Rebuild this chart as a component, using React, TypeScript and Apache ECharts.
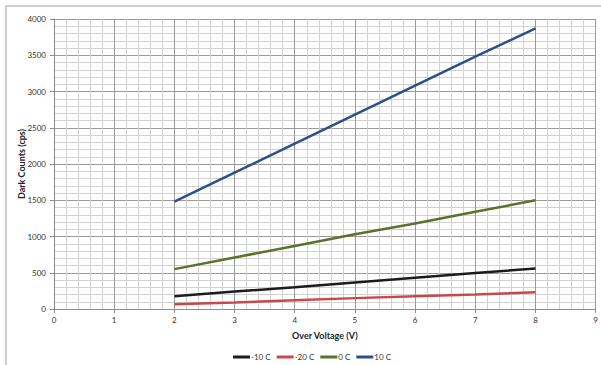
import React, { useEffect, useRef } from "react";
import * as echarts from "echarts";

const voltages = [2, 3, 4, 5, 6, 7, 8];
const seriesNames = ["-10 C", "-20 C", "0 C", "10 C"];
const minus10 = [175, 240, 300, 365, 430, 495, 560];
const minus20 = [65, 90, 120, 150, 175, 200, 230];
const zero = [550, 710, 870, 1030, 1180, 1340, 1500];
const ten = [1480, 1880, 2280, 2680, 3080, 3480, 3870];
const colors = ["#1c1c1c", "#c9494b", "#5b712c", "#2b5188"];

export default function App() {
  const ref = useRef<HTMLDivElement>(null);
  useEffect(() => {
    if (!ref.current) return;
    const chart = echarts.init(ref.current, undefined, { renderer: "svg" });
    const values = [minus10, minus20, zero, ten];
    const font = "Lato, 'Open Sans', sans-serif";
    chart.setOption({
      animation: false,
      textStyle: { fontFamily: font },
      graphic: [
        {
          type: "rect",
          shape: { x: 6, y: 6, width: 620, height: 380 },
          style: { fill: "none", stroke: "#cfcfcf", lineWidth: 2 },
          silent: true,
        },
      ],
      grid: { left: 54, right: 2, top: 19, bottom: 56, containLabel: false },
      legend: {
        bottom: -1,
        left: 228,
        itemWidth: 17,
        itemHeight: 3,
        itemGap: 6,
        icon: "rect",
        textStyle: { fontSize: 8, color: "#333", fontFamily: font, padding: [0, 0, 0, -4] },
        data: seriesNames,
      },
      xAxis: {
        type: "value",
        min: 0,
        max: 9,
        interval: 1,
        name: "Over Voltage (V)",
        nameLocation: "middle",
        nameGap: 22,
        nameMoveOverlap: false,
        nameTextStyle: { fontSize: 9, fontWeight: "bold", color: "#222" },
        axisLine: { lineStyle: { color: "#8c8c8c" } },
        axisTick: { show: true, length: 4, lineStyle: { color: "#8c8c8c" } },
        axisLabel: { fontSize: 8, color: "#333", margin: 7, formatter: (v: number) => String(v) },
        splitLine: { show: true, lineStyle: { color: "#9a9a9a", width: 1 } },
        minorTick: { show: false, splitNumber: 5 },
        minorSplitLine: { show: true, lineStyle: { color: "#d2d2d2", width: 1 } },
      },
      yAxis: {
        type: "value",
        min: 0,
        max: 4000,
        interval: 500,
        name: "Dark Counts (cps)",
        nameLocation: "middle",
        nameGap: 28,
        nameMoveOverlap: false,
        nameTextStyle: { fontSize: 9, fontWeight: "bold", color: "#222" },
        axisLine: { show: true, lineStyle: { color: "#8c8c8c" } },
        axisTick: { show: true, length: 4, lineStyle: { color: "#8c8c8c" } },
        axisLabel: { fontSize: 8, color: "#333", margin: 8, formatter: (v: number) => String(v) },
        splitLine: { show: true, lineStyle: { color: "#9a9a9a", width: 1 } },
        minorTick: { show: false, splitNumber: 5 },
        minorSplitLine: { show: true, lineStyle: { color: "#d2d2d2", width: 1 } },
      },
      series: seriesNames.map((name, i) => ({
        name,
        type: "line",
        showSymbol: false,
        symbol: "none",
        color: colors[i],
        lineStyle: { width: 2.5, color: colors[i] },
        data: voltages.map((v, j) => [v, values[i][j]]),
        z: 3,
      })),
    });
    return () => chart.dispose();
  }, []);
  return (
    <div
      ref={ref}
      style={{ position: "absolute", left: 0, top: 0, width: 601, height: 365 }}
    />
  );
}
